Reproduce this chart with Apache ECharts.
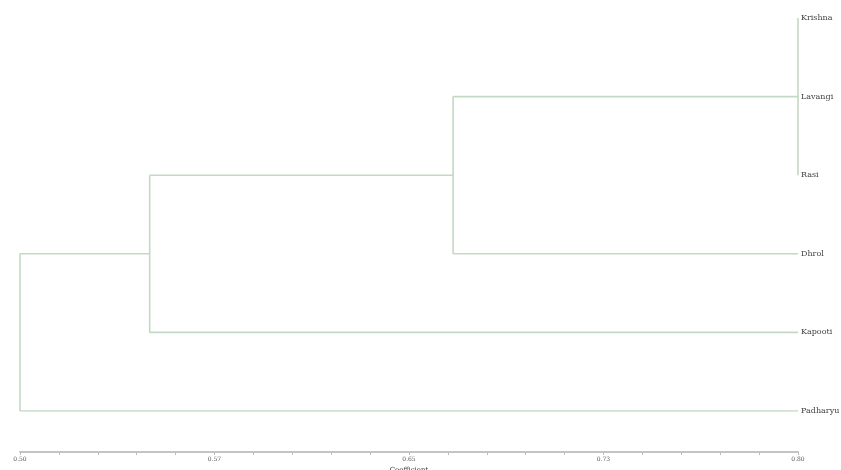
<!DOCTYPE html>
<html><head><meta charset="utf-8">
<script src="https://cdn.jsdelivr.net/npm/echarts@6/dist/echarts.min.js"></script>
<style>html,body{margin:0;padding:0;background:#fff}#c{width:841px;height:470px}</style>
</head><body><div id="c"></div>
<script>
// Leaves (top to bottom)
const leafNames = ['Krishna', 'Lavangi', 'Rasi', 'Dhrol', 'Kapooti', 'Padharyu'];
// Merge steps: children indices (0..5 leaves, 6.. previous merges) and similarity level
const mergeChildren = [[0, 1, 2], [6, 3], [7, 4], [8, 5]];
const mergeLevels = [0.80, 0.667, 0.550, 0.500];
const leafLevel = 0.80;
// Axis ticks
const axisMin = 0.50, axisMax = 0.80, tickStep = 0.015;
const tickLabels = ['0.50', '0.57', '0.65', '0.73', '0.80'];

const nodeX = leafNames.map(() => leafLevel);
const nodeY = leafNames.map((_, i) => i);
const series = [];
const lineStyle = { color: '#c3d9c3', width: 1.6 };
function seg(p, q) {
  series.push({ type: 'line', data: [p, q], symbol: 'none', silent: true, lineStyle: lineStyle, animation: false });
}
mergeChildren.forEach((ch, k) => {
  const x = mergeLevels[k];
  const ys = ch.map(c => nodeY[c]);
  const y0 = Math.min(...ys), y1 = Math.max(...ys);
  seg([x, y0], [x, y1]);
  ch.forEach(c => { if (nodeX[c] > x + 1e-9) seg([x, nodeY[c]], [nodeX[c], nodeY[c]]); });
  nodeX.push(x);
  nodeY.push((y0 + y1) / 2);
});

const chart = echarts.init(document.getElementById('c'));
chart.setOption({
  animation: false,
  backgroundColor: '#fff',
  grid: { left: 20, right: 43, top: 18, bottom: 59, containLabel: false, outerBoundsMode: 'none' },
  xAxis: {
    type: 'value', min: axisMin, max: axisMax, interval: tickStep,
    position: 'bottom', offset: 41,
    name: 'Coefficient', nameLocation: 'middle', nameGap: 12,
    nameTextStyle: { fontFamily: 'DejaVu Serif', fontSize: 7, color: '#444' },
    axisLine: { show: true, onZero: false, lineStyle: { color: '#c4c4c4', width: 2 } },
    axisTick: { show: true, length: 3, lineStyle: { color: '#bbbbbb', width: 1 } },
    splitLine: { show: false },
    axisLabel: {
      margin: 4, fontFamily: 'DejaVu Serif', fontSize: 6, color: '#555', showMinLabel: true, showMaxLabel: true,
      formatter: function (v) {
        const i = Math.round((v - axisMin) / tickStep);
        return i % 5 === 0 ? tickLabels[i / 5] : '';
      }
    }
  },
  yAxis: {
    type: 'value', min: 0, max: leafNames.length - 1, interval: 1, inverse: true, position: 'right',
    axisLine: { show: false }, axisTick: { show: false }, splitLine: { show: false },
    axisLabel: {
      margin: 3, fontFamily: 'DejaVu Serif', fontSize: 8, color: '#444',
      formatter: function (v) { return leafNames[Math.round(v)] || ''; }
    }
  },
  series: series
});
</script></body></html>
